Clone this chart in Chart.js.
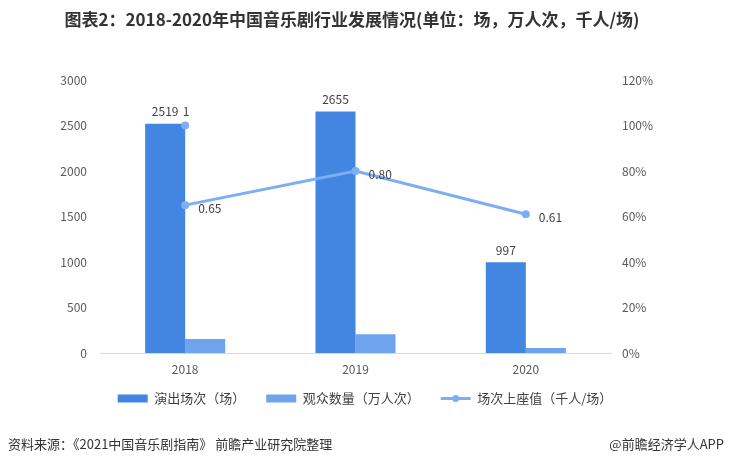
<!DOCTYPE html>
<html>
<head>
<meta charset="utf-8">
<script src="https://cdn.jsdelivr.net/npm/chart.js@4/dist/chart.umd.min.js"></script>
<style>
    body { margin: 0; background: #fff; }
</style>
</head>
<body>
<canvas id="canvas1" width="730" height="469"></canvas>
<script>
// data
const years = ['2018', '2019', '2020'];
const performances = [2519, 2655, 997];      // 演出场次（场）
const audience = [155, 205, 55];             // 观众数量（万人次）
const seatValue = [0.65, 0.80, 0.61];        // 场次上座值（千人/场）
const strayPoint = [1, null, null];          // lone point labelled "1"
const leftTicks = [0, 500, 1000, 1500, 2000, 2500, 3000];
const rightTicks = [0, 0.2, 0.4, 0.6, 0.8, 1.0, 1.2];

const cjk = '"Noto Sans CJK SC", "Noto Sans", sans-serif';
const colors = {
    bar1: '#4386E2',
    bar2: '#6EA4EE',
    line: '#7BAEF2',
    text: '#404040',
    axis: '#D9D9D9'
};

// title, footer, value labels and the line legend mark
const decorations = {
    id: 'decorations',
    afterDatasetsDraw(chart) {
        const ctx = chart.ctx;
        ctx.save();
        ctx.font = '12px ' + cjk;
        ctx.fillStyle = colors.text;

        let m0 = chart.getDatasetMeta(0);
        ctx.textAlign = 'center';
        ctx.textBaseline = 'bottom';
        m0.data.forEach(function (bar, i) {
            ctx.fillText(String(performances[i]), bar.x, bar.y - 6);
        });

        let m2 = chart.getDatasetMeta(2);
        ctx.textAlign = 'left';
        ctx.textBaseline = 'middle';
        m2.data.forEach(function (pt, i) {
            ctx.fillText(seatValue[i].toFixed(2), pt.x + 13, pt.y + 3);
        });

        let m3 = chart.getDatasetMeta(3);
        ctx.textAlign = 'center';
        ctx.textBaseline = 'bottom';
        m3.data.forEach(function (pt, i) {
            if (strayPoint[i] !== null) {
                ctx.fillText(String(strayPoint[i]), pt.x + 1, pt.y - 8);
            }
        });
        ctx.restore();
    },
    afterDraw(chart) {
        const ctx = chart.ctx;
        ctx.save();
        ctx.fillStyle = '#333';
        ctx.font = 'bold 17px ' + cjk;
        ctx.textAlign = 'center';
        ctx.textBaseline = 'middle';
        ctx.fillText('图表2：2018-2020年中国音乐剧行业发展情况(单位：场，万人次，千人/场)', 352, 20);

        ctx.font = '13px ' + cjk;
        ctx.textAlign = 'left';
        ctx.fillText('资料来源：《2021中国音乐剧指南》 前瞻产业研究院整理', 8, 444);
        ctx.textAlign = 'right';
        ctx.fillText('@前瞻经济学人APP', 724, 444);

        // line legend item: a line with a dot instead of a box
        let legend = chart.legend;
        legend.legendItems.forEach(function (item, i) {
            if (item.datasetIndex === 2) {
                let box = legend.legendHitBoxes[i];
                let cy = box.top + box.height / 2;
                ctx.strokeStyle = colors.line;
                ctx.lineWidth = 3;
                ctx.beginPath();
                ctx.moveTo(box.left, cy);
                ctx.lineTo(box.left + 30, cy);
                ctx.stroke();
                ctx.fillStyle = colors.line;
                ctx.beginPath();
                ctx.arc(box.left + 15, cy, 3.5, 0, Math.PI * 2);
                ctx.fill();
            }
        });
        ctx.restore();
    }
};

let ctx1 = document.getElementById('canvas1').getContext('2d');
let chart = new Chart(ctx1, {
    type: 'bar',
    data: {
        labels: years,
        datasets: [{
            label: '演出场次（场）\u3000\u2002',
            data: performances,
            backgroundColor: colors.bar1,
            yAxisID: 'y',
            order: 1,
            categoryPercentage: 0.47,
            barPercentage: 1
        }, {
            label: '观众数量（万人次）\u3000\u2002',
            data: audience,
            backgroundColor: colors.bar2,
            yAxisID: 'y',
            order: 1,
            categoryPercentage: 0.47,
            barPercentage: 1
        }, {
            type: 'line',
            label: '场次上座值（千人/场）',
            data: seatValue,
            borderColor: colors.line,
            backgroundColor: colors.line,
            borderWidth: 3,
            pointRadius: 4,
            pointBackgroundColor: colors.line,
            pointBorderWidth: 0,
            yAxisID: 'y1',
            order: 0
        }, {
            type: 'line',
            label: 'stray',
            data: strayPoint,
            showLine: false,
            borderColor: colors.line,
            backgroundColor: colors.line,
            pointRadius: 4,
            pointBorderWidth: 0,
            yAxisID: 'y1',
            order: 0
        }]
    },
    options: {
        responsive: false,
        animation: false,
        layout: {
            padding: {top: 80, bottom: 54, left: 0, right: 0}
        },
        plugins: {
            tooltip: {enabled: false},
            title: {display: false},
            legend: {
                position: 'bottom',
                labels: {
                    boxWidth: 30,
                    boxHeight: 8,
                    padding: 8,
                    color: '#404040',
                    font: {size: 13, family: cjk},
                    sort: function (a, b) {
                        return a.datasetIndex - b.datasetIndex;
                    },
                    filter: function (item) {
                        return item.datasetIndex !== 3;
                    },
                    generateLabels: function (chart) {
                        let items = Chart.defaults.plugins.legend.labels.generateLabels(chart);
                        items.forEach(function (item) {
                            item.lineWidth = 0;
                            if (item.datasetIndex === 2) {
                                item.fillStyle = 'rgba(0,0,0,0)';
                                item.strokeStyle = 'rgba(0,0,0,0)';
                            }
                        });
                        return items;
                    }
                }
            }
        },
        scales: {
            x: {
                grid: {display: false, drawTicks: false},
                border: {display: true, color: colors.axis},
                ticks: {color: '#595959', font: {size: 12, family: cjk}, padding: 9},
                afterFit: function (scale) { scale.height = 31; }
            },
            y: {
                position: 'left',
                min: 0,
                max: 3000,
                afterBuildTicks: function (scale) {
                    scale.ticks = leftTicks.map(function (v) { return {value: v}; });
                },
                grid: {display: false, drawTicks: false},
                border: {display: false},
                ticks: {
                    color: '#595959',
                    font: {size: 12, family: cjk},
                    padding: 13,
                    callback: function (v) { return String(v); }
                },
                afterFit: function (scale) { scale.width = 100; }
            },
            y1: {
                position: 'right',
                min: 0,
                max: 1.2,
                afterBuildTicks: function (scale) {
                    scale.ticks = rightTicks.map(function (v) { return {value: v}; });
                },
                grid: {display: false, drawTicks: false},
                border: {display: false},
                ticks: {
                    color: '#595959',
                    font: {size: 12, family: cjk},
                    padding: 11,
                    callback: function (v) { return Math.round(v * 100) + '%'; }
                },
                afterFit: function (scale) { scale.width = 119; }
            }
        }
    },
    plugins: [decorations]
});
</script>
</body>
</html>
